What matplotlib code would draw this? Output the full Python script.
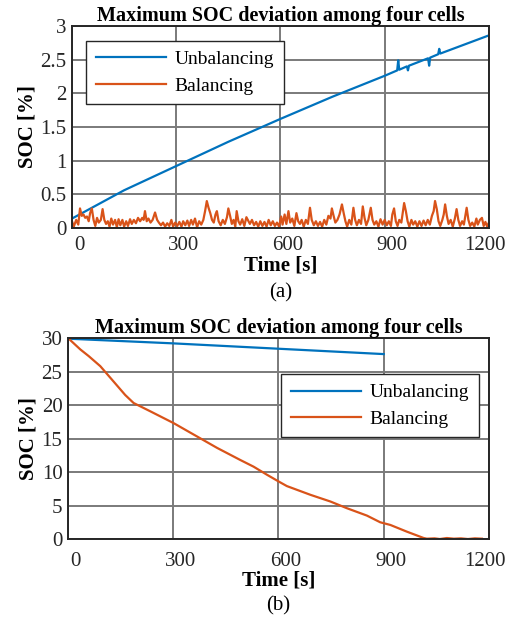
import matplotlib.pyplot as plt
import matplotlib.transforms as mtransforms
import numpy as np

plt.rcParams['font.family'] = ['Liberation Serif', 'DejaVu Serif']
plt.rcParams['mathtext.fontset'] = 'stix'

BLUE = '#0072BD'
ORANGE = '#D95319'

# (a) unbalancing: max SOC deviation grows over time
t_unbal_a = [0, 150, 300, 450, 600, 750, 900, 936, 939, 942, 964, 967, 970,
             1025, 1028, 1031, 1054, 1057, 1060, 1200]
soc_unbal_a = [0.14, 0.56, 0.92, 1.28, 1.62, 1.95, 2.26, 2.34, 2.49, 2.35, 2.40, 2.34, 2.41,
               2.52, 2.41, 2.53, 2.58, 2.66, 2.59, 2.86]

# (a) balancing: deviation kept near zero (peak/valley readings)
t_bal_a = [0, 5, 12, 18, 23, 28, 33, 38, 43, 48, 52, 57, 62, 67, 72, 77, 83, 88, 93, 98,
           103, 108, 113, 118, 124, 129, 134, 139, 145, 150, 156, 161, 167, 172, 178, 184,
           190, 196, 202, 206, 210, 215, 220, 226, 232, 239, 245, 250, 256, 262, 268, 274,
           280, 286, 291, 297, 303, 309, 315, 320, 326, 332, 337, 343, 348, 354, 360, 366,
           372, 378, 383, 388, 393, 398, 403, 408, 413, 417, 422, 428, 434, 440, 446, 450,
           455, 460, 465, 470, 474, 479, 484, 490, 496, 502, 506, 512, 518, 524, 530, 536,
           542, 548, 554, 560, 566, 572, 578, 584, 590, 596, 602, 606, 612, 617, 623, 628,
           634, 640, 646, 651, 656, 661, 667, 673, 679, 685, 690, 696, 702, 708, 714, 720,
           726, 732, 738, 744, 748, 753, 758, 764, 770, 777, 782, 787, 792, 798, 804, 810,
           815, 820, 826, 832, 837, 842, 847, 853, 860, 865, 870, 876, 882, 888, 894, 900,
           906, 912, 918, 922, 927, 932, 937, 942, 948, 952, 956, 961, 966, 971, 977, 982,
           988, 994, 1000, 1006, 1012, 1018, 1024, 1030, 1036, 1041, 1045, 1050, 1055, 1060,
           1066, 1070, 1074, 1079, 1084, 1090, 1096, 1102, 1107, 1112, 1117, 1123, 1128,
           1132, 1136, 1141, 1146, 1152, 1158, 1164, 1168, 1174, 1180, 1185, 1190, 1195, 1200]
soc_bal_a = [0.10, 0.02, 0.12, 0.05, 0.29, 0.18, 0.20, 0.15, 0.17, 0.10, 0.22, 0.29, 0.12,
             0.03, 0.15, 0.08, 0.12, 0.28, 0.12, 0.06, 0.10, 0.02, 0.14, 0.05, 0.12, 0.01,
             0.13, 0.04, 0.12, 0.02, 0.10, 0.03, 0.13, 0.06, 0.12, 0.07, 0.15, 0.10, 0.15,
             0.12, 0.25, 0.10, 0.14, 0.08, 0.12, 0.23, 0.12, 0.08, 0.04, 0.08, 0.02, 0.07,
             0.03, 0.12, 0.02, 0.08, 0.03, 0.09, 0.02, 0.10, 0.04, 0.11, 0.03, 0.12, 0.05,
             0.14, 0.01, 0.10, 0.05, 0.12, 0.25, 0.40, 0.30, 0.22, 0.12, 0.08, 0.20, 0.25,
             0.10, 0.04, 0.12, 0.06, 0.16, 0.29, 0.18, 0.06, 0.12, 0.02, 0.25, 0.10, 0.05,
             0.13, 0.03, 0.16, 0.12, 0.06, 0.12, 0.04, 0.09, 0.02, 0.10, 0.03, 0.09, 0.02,
             0.12, 0.04, 0.10, 0.03, 0.08, 0.02, 0.17, 0.05, 0.20, 0.06, 0.25, 0.08, 0.14,
             0.03, 0.22, 0.10, 0.06, 0.12, 0.02, 0.12, 0.06, 0.30, 0.12, 0.04, 0.10, 0.03,
             0.09, 0.02, 0.12, 0.05, 0.18, 0.14, 0.29, 0.18, 0.08, 0.12, 0.20, 0.35, 0.22,
             0.10, 0.02, 0.12, 0.05, 0.30, 0.12, 0.04, 0.12, 0.06, 0.32, 0.15, 0.04, 0.12,
             0.30, 0.12, 0.05, 0.10, 0.02, 0.13, 0.05, 0.12, 0.04, 0.10, 0.03, 0.20, 0.29,
             0.10, 0.03, 0.12, 0.08, 0.22, 0.37, 0.25, 0.10, 0.02, 0.12, 0.05, 0.10, 0.02,
             0.10, 0.03, 0.11, 0.04, 0.12, 0.05, 0.18, 0.25, 0.40, 0.28, 0.10, 0.03, 0.12,
             0.20, 0.35, 0.18, 0.06, 0.12, 0.02, 0.14, 0.28, 0.12, 0.03, 0.10, 0.05, 0.18,
             0.30, 0.12, 0.03, 0.08, 0.02, 0.14, 0.05, 0.12, 0.15, 0.03, 0.09, 0.02, 0.08]

# (b) starting from 30 % deviation
t_unbal_b = [0, 300, 600, 900]
soc_unbal_b = [29.9, 29.2, 28.4, 27.6]

t_bal_b = [0, 35, 59, 92, 130, 163, 187, 235, 301, 358, 425, 491, 529, 567, 600, 624,
           691, 748, 795, 852, 890, 919, 966, 1014, 1023, 1045, 1060, 1080, 1100, 1120,
           1140, 1160, 1180]
soc_bal_b = [30.0, 28.3, 27.3, 25.8, 23.5, 21.5, 20.3, 19.05, 17.3, 15.6, 13.6, 11.8, 10.8,
             9.6, 8.6, 7.9, 6.6, 5.6, 4.6, 3.5, 2.5, 2.1, 1.1, 0.15, 0.05, 0.1, 0.0, 0.15,
             0.05, 0.1, 0.0, 0.1, 0.05]

xticks = [0, 300, 600, 900, 1200]
title = 'Maximum SOC deviation among four cells'

fig = plt.figure(figsize=(5.09, 6.21), dpi=100)
ax1 = fig.add_axes([0.1415, 0.6329, 0.819, 0.3253])
ax2 = fig.add_axes([0.1336, 0.132, 0.827, 0.3237])


def style(ax, ylim, yticks, ylabels, sub, xpad, sub_y):
    ax.set_xlim(0, 1200)
    ax.set_ylim(*ylim)
    ax.set_xticks(xticks)
    ax.set_yticks(yticks)
    ax.set_yticklabels(ylabels)
    ax.grid(True, color='#7a7a7a', linewidth=1.4)
    ax.set_axisbelow(True)
    for s in ax.spines.values():
        s.set_color('#262626')
        s.set_linewidth(1.4)
    ax.tick_params(direction='in', length=0, labelsize=15, colors='#262626')
    ax.tick_params(axis='x', pad=xpad)
    ax.tick_params(axis='y', pad=4)
    # labels in the source sit a little right of their ticks
    for i, lab in enumerate(ax.get_xticklabels()):
        dx = 7 if i < 4 else -4
        lab.set_transform(lab.get_transform() +
                          mtransforms.ScaledTranslation(dx / 100, 0, fig.dpi_scale_trans))
    ax.set_title(title, fontsize=14.5, fontweight='bold', pad=3)
    ax.set_xlabel('Time [s]', fontsize=15, fontweight='bold', labelpad=0)
    ax.set_ylabel('SOC [%]', fontsize=15, fontweight='bold', labelpad=2)
    ax.text(0.5, sub_y, sub, transform=ax.transAxes, ha='center', va='center', fontsize=15)


def add_legend(ax, loc, anchor):
    ax.legend(loc=loc, bbox_to_anchor=anchor, borderaxespad=0, fontsize=14,
              fancybox=False, edgecolor='#262626', framealpha=1, handlelength=3.6,
              handletextpad=0.45, borderpad=0.5, labelspacing=0.45)


ax1.plot(t_unbal_a, soc_unbal_a, color=BLUE, lw=1.6, label='Unbalancing')
ax1.plot(t_bal_a, soc_bal_a, color=ORANGE, lw=1.6, label='Balancing')
style(ax1, (0, 3), [0, 0.5, 1, 1.5, 2, 2.5, 3], ['0', '0.5', '1', '1.5', '2', '2.5', '3'],
      '(a)', 6, -0.32)
add_legend(ax1, 'upper left', (0.034, 0.926))

ax2.plot(t_unbal_b, soc_unbal_b, color=BLUE, lw=1.6, label='Unbalancing')
ax2.plot(t_bal_b, soc_bal_b, color=ORANGE, lw=1.6, label='Balancing')
style(ax2, (0, 30), [0, 5, 10, 15, 20, 25, 30], ['0', '5', '10', '15', '20', '25', '30'],
      '(b)', 9, -0.33)
add_legend(ax2, 'upper right', (0.976, 0.821))

plt.savefig('out.png', dpi=100)
